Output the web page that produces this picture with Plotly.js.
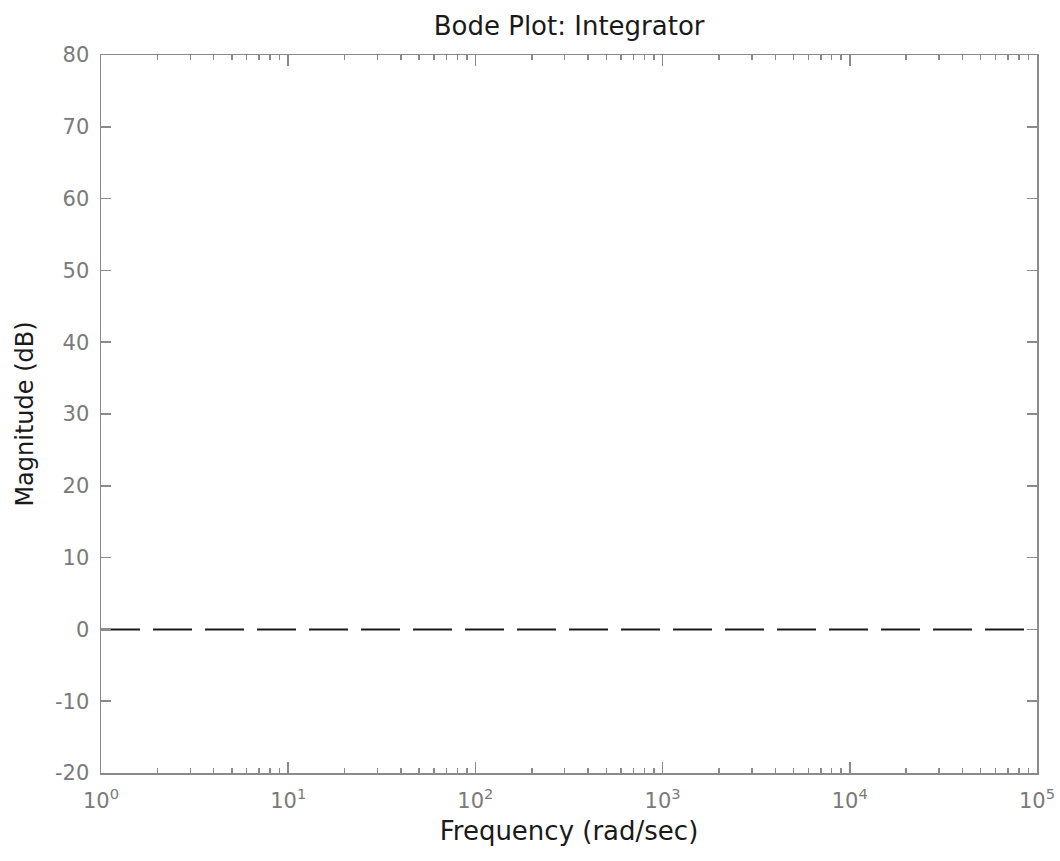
<!DOCTYPE html>
<html>
<head>
<meta charset="utf-8">
<script src="https://cdn.plot.ly/plotly-3.0.1.min.js"></script>
<style>
  html, body { margin: 0; padding: 0; background: #fff; }
  #chart { width: 1060px; height: 861px; }
</style>
</head>
<body>
<div id="chart"></div>
<script>
// Data
const frequency = [1, 100000];          // rad/sec
const magnitude = [0, 0];               // dB

// Tick definitions
const xTickVals = [1, 10, 100, 1000, 10000, 100000];
const xTickText = ['10<sup>0</sup>', '10<sup>1</sup>', '10<sup>2</sup>', '10<sup>3</sup>', '10<sup>4</sup>', '10<sup>5</sup>'];
const xMinorVals = [2,3,4,5,6,7,8,9, 20,30,40,50,60,70,80,90, 200,300,400,500,600,700,800,900,
                    2000,3000,4000,5000,6000,7000,8000,9000, 20000,30000,40000,50000,60000,70000,80000,90000];
const yTickVals = [-20, -10, 0, 10, 20, 30, 40, 50, 60, 70, 80];
const yTickText = ['-20', '-10', '0', '10', '20', '30', '40', '50', '60', '70', '80'];

const axisGray = '#8a8a8a';
const font = 'DejaVu Sans, sans-serif';

const trace = {
  x: frequency,
  y: magnitude,
  type: 'scatter',
  mode: 'lines',
  line: { color: '#1a1a1a', width: 2, dash: '39px,13px' },
  hoverinfo: 'skip'
};

const layout = {
  width: 1060,
  height: 861,
  paper_bgcolor: '#ffffff',
  plot_bgcolor: '#ffffff',
  showlegend: false,
  margin: { l: 101, r: 23, t: 55, b: 88, pad: 0 },
  title: {
    text: 'Bode Plot: Integrator',
    font: { family: font, size: 26, color: '#1a1a1a' },
    x: 0.5369, xanchor: 'center',
    y: 1 - 35/861, yanchor: 'bottom', yref: 'container'
  },
  xaxis: {
    type: 'log',
    range: [0, 5],
    tickmode: 'array',
    tickvals: xTickVals,
    ticktext: xTickText,
    ticks: 'inside',
    ticklen: 11,
    tickwidth: 1.5,
    tickcolor: axisGray,
    showline: true,
    linecolor: axisGray,
    linewidth: 1.5,
    mirror: 'ticks',
    showgrid: false,
    zeroline: false,
    tickfont: { family: font, size: 21, color: '#7a7a7a' },
    ticklabelstandoff: 8,
    minor: {
      tickmode: 'array',
      tickvals: xMinorVals,
      ticks: 'inside',
      ticklen: 5,
      tickwidth: 1.5,
      tickcolor: axisGray,
      showgrid: false
    },
    title: {
      text: 'Frequency (rad/sec)',
      font: { family: font, size: 26, color: '#1a1a1a' },
      standoff: 10
    }
  },
  yaxis: {
    range: [-20, 80],
    tickmode: 'array',
    tickvals: yTickVals,
    ticktext: yTickText,
    ticks: 'inside',
    ticklen: 10,
    tickwidth: 1.5,
    tickcolor: axisGray,
    showline: true,
    linecolor: axisGray,
    linewidth: 1.5,
    mirror: 'ticks',
    showgrid: false,
    zeroline: false,
    tickfont: { family: font, size: 21, color: '#7a7a7a' },
    ticklabelstandoff: 6,
    title: {
      text: 'Magnitude (dB)',
      font: { family: font, size: 24, color: '#1a1a1a' },
      standoff: 14
    }
  }
};

Plotly.newPlot('chart', [trace], layout, { displayModeBar: false, staticPlot: true });
</script>
</body>
</html>
